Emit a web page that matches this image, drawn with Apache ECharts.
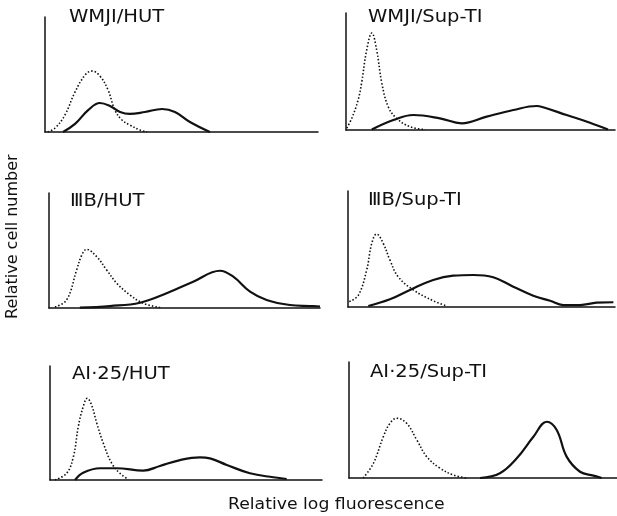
<!DOCTYPE html>
<html>
<head>
<meta charset="utf-8">
<script src="https://cdn.jsdelivr.net/npm/echarts@6/dist/echarts.min.js"></script>
<style>html,body{margin:0;padding:0;background:#fff}#c{width:617px;height:516px}</style>
</head>
<body>
<div id="c"></div>
<script>
// Panel titles
const panelTitles = ["WMJI/HUT", "WMJI/Sup-TI", "\u2162B/HUT", "\u2162B/Sup-TI", "AI\u00b725/HUT", "AI\u00b725/Sup-TI"];
const xAxisTitle = "Relative log fluorescence";
const yAxisTitle = "Relative cell number";

// Curves: [relative log fluorescence (0-100), relative cell number (0-100)]
const p1Control = [[1,0],[3.7,3.5],[7.3,14.8],[11,34.8],[14.7,49.6],[17.2,53],[20.1,48.7],[23.1,36.5],[25.6,19],[28.2,10.4],[31.1,6],[34.8,1.7],[37.4,0]];
const p1Stained = [[6.6,0],[11,7],[15.8,19],[20.1,25.2],[23.8,22.6],[27.5,17.4],[31.1,15.7],[36.6,17.4],[42.9,20],[47.6,17.4],[53.1,8.7],[60.4,0]];

const p2Control = [[0.3,1.7],[2.2,10.3],[4.5,25.6],[5.8,40.2],[7.7,68.4],[9.6,82.9],[11.4,68.4],[13.3,40.2],[15.7,19.9],[18.8,10],[23.8,2.8],[29.4,0.4]];
const p2Stained = [[9.6,0.4],[17.6,8.5],[25,12.8],[34.9,10],[43,5.7],[52.3,11.4],[62.2,17.1],[70.9,20.5],[73.3,19.4],[82,12.8],[90.7,6.2],[97.4,0.4]];

const p3Control = [[2.2,0.9],[6.5,7],[10.2,33],[12.1,46],[13.9,51],[17.6,44.6],[21.3,33],[25,21.5],[29.9,11.3],[34.8,4.1],[41,0.4]];
const p3Stained = [[11.4,0.3],[22.5,1.7],[33.6,4.6],[43.4,12.8],[53.2,22.9],[63.1,32.4],[68,27.2],[74.2,14.2],[80.3,7],[88.9,2.6],[96.3,1.7],[100,1.3]];

const p4Control = [[0.5,4.6],[3.9,10.3],[7,31.9],[8.9,54.9],[10.7,62.9],[13.2,54.9],[15.7,40.5],[18.8,26.1],[24.5,14.7],[31.9,5.4],[37,0.9]];
const p4Stained = [[7.6,0.9],[15.7,6.6],[23.2,14.7],[31.9,23.3],[39.4,27],[46.9,27.6],[54.4,25.6],[61.9,17.5],[69.4,9.7],[75.7,5.4],[80.6,1.7],[86.9,1.7],[93.1,3.7],[99.4,4.1]];

const p5Control = [[1.8,0],[6.1,5.9],[8.6,20.4],[10.4,46.8],[12.2,64.3],[13.7,71.7],[15.3,65.8],[17.2,49.7],[19.6,32.2],[22.7,14.6],[25.7,5.9],[28.8,0.6]];
const p5Stained = [[9.2,0],[12.2,6.4],[18.4,10.3],[24.5,10.3],[34.3,8.2],[40.4,12.3],[47.8,17.5],[55.1,19.9],[58.8,19],[65,13.2],[73.5,5.9],[82.1,2.4],[87,0.9]];

const p6Control = [[5.3,0],[9.1,12.7],[12.8,35.6],[15.3,47.2],[17.8,51.5],[21.5,47.2],[25.3,32.8],[29,18.4],[34,8.4],[38.9,2.6],[43.9,0]];
const p6Stained = [[48.9,0],[56.3,4.1],[62.6,17],[68.8,35.6],[73.8,48.5],[77.5,41.4],[81.2,18.4],[86.2,5.4],[91.2,2],[94.3,0]];

const controls = [p1Control, p2Control, p3Control, p4Control, p5Control, p6Control];
const stained = [p1Stained, p2Stained, p3Stained, p4Stained, p5Stained, p6Stained];

// Layout (pixels)
const grids = [
  {left:45, top:17, width:273, height:115},
  {left:346, top:13, width:269, height:117},
  {left:49, top:193, width:271, height:115},
  {left:348, top:191, width:267, height:116},
  {left:50, top:366, width:272, height:114},
  {left:349, top:362, width:268, height:116}
];
const titlePos = [[69,17.5],[368,17.5],[70,201.5],[368,200.5],[72,374.5],[370,372.5]];
const font = "DejaVu Sans";

const chart = echarts.init(document.getElementById('c'), null, {renderer:'canvas'});
const axisLine = {show:true, onZero:false, lineStyle:{color:'#111', width:1.5}};
const graphics = panelTitles.map((t,i) => ({
  type:'text', x:titlePos[i][0], y:titlePos[i][1], scaleX:1.15,
  style:{text:t, fontFamily:font, fontSize:17, fill:'#111', textAlign:'left', textVerticalAlign:'middle'}
}));
graphics.push({type:'text', x:228, y:505, scaleX:1.15, style:{text:xAxisTitle, fontFamily:font, fontSize:15, fill:'#111', textAlign:'left', textVerticalAlign:'middle'}});
graphics.push({type:'text', x:5, y:319, rotation:Math.PI/2, style:{text:yAxisTitle, fontFamily:font, fontSize:16, fill:'#111', textAlign:'left', textVerticalAlign:'top'}});

const option = {
  backgroundColor:'#fff',
  animation:false,
  grid: grids.map(g => Object.assign({containLabel:false}, g)),
  xAxis: grids.map((g,i) => ({type:'value', gridIndex:i, min:0, max:100, axisLine, axisTick:{show:false}, axisLabel:{show:false}, splitLine:{show:false}})),
  yAxis: grids.map((g,i) => ({type:'value', gridIndex:i, min:0, max:100, axisLine, axisTick:{show:false}, axisLabel:{show:false}, splitLine:{show:false}})),
  graphic: graphics,
  series: []
};
for (let i = 0; i < 6; i++) {
  option.series.push({type:'line', xAxisIndex:i, yAxisIndex:i, data:controls[i], smooth:0.4, symbol:'none', lineStyle:{color:'#111', width:1.6, type:[1.5,2]}});
  option.series.push({type:'line', xAxisIndex:i, yAxisIndex:i, data:stained[i], smooth:0.4, symbol:'none', lineStyle:{color:'#111', width:2.2}});
}
chart.setOption(option);
</script>
</body>
</html>
